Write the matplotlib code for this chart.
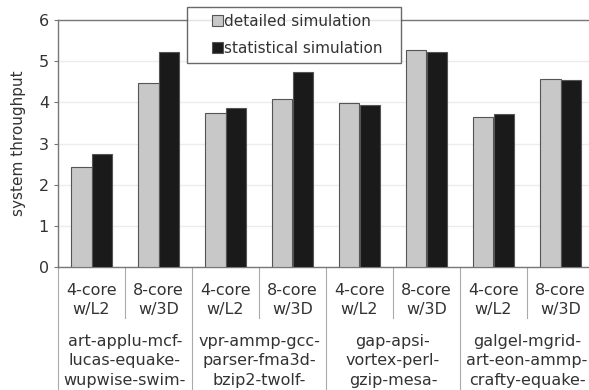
import matplotlib.pyplot as plt
import numpy as np
from matplotlib.patches import Rectangle
from matplotlib.legend_handler import HandlerPatch

configs = ["4-core\nw/L2", "8-core\nw/3D"] * 4
groups = ["art-applu-mcf-\nlucas-equake-\nwupwise-swim-",
          "vpr-ammp-gcc-\nparser-fma3d-\nbzip2-twolf-",
          "gap-apsi-\nvortex-perl-\ngzip-mesa-",
          "galgel-mgrid-\nart-eon-ammp-\ncrafty-equake-"]
detailed = [2.43, 4.47, 3.74, 4.08, 3.98, 5.27, 3.64, 4.56]
statistical = [2.74, 5.22, 3.86, 4.73, 3.93, 5.22, 3.71, 4.54]

txt = '#333333'
plt.rcParams['font.family'] = ['DejaVu Sans']

fig = plt.figure(figsize=(5.89, 3.9), dpi=100)
ax = fig.add_axes([58 / 589, 1 - 267 / 390, 536 / 589, 247 / 390])

x = np.arange(len(detailed))
w = 0.3
ax.bar(x - w / 2, detailed, w, color='#c8c8c8', edgecolor='#555555', linewidth=0.8, zorder=3)
ax.bar(x + w / 2, statistical, w, color='#1a1a1a', edgecolor='#555555', linewidth=0.8, zorder=3)

ax.set_xlim(-0.5, len(detailed) - 0.5)
ax.set_ylim(0, 6)
ax.set_yticks(range(7))
ax.tick_params(axis='y', colors='#777777', labelcolor=txt, labelsize=11.5, length=3, width=0.8)
ax.set_xticks([])
ax.yaxis.grid(True, color='#ececec', linewidth=1, zorder=0)
for s in ['left', 'top', 'bottom']:
    ax.spines[s].set_color('#777777')
    ax.spines[s].set_linewidth(1)
ax.spines['right'].set_visible(False)
ax.set_ylabel('system throughput', color=txt, fontsize=11, labelpad=9)

# two-level category axis below the plot
tr = ax.get_xaxis_transform()
for i, c in enumerate(configs):
    ax.text(i, -33 / 247, c, transform=tr, ha='center', va='center', fontsize=11.5,
            color=txt, linespacing=1.4)
for b in np.arange(-0.5, len(configs), 1.0):
    bottom = -0.5 if (b + 0.5) % 2 == 0 else -0.207
    ax.plot([b, b], [0, bottom], transform=tr, color='#aaaaaa', linewidth=0.8,
            clip_on=False)
for g, label in enumerate(groups):
    ax.text(2 * g + 0.5, -67 / 247, label, transform=tr, ha='center', va='top',
            fontsize=11.5, color=txt, linespacing=1.36)


# small square swatch pushed to the right end of the handle box
def square(legend, orig_handle, xdescent, ydescent, width, height, fontsize):
    s = 8
    return Rectangle((-xdescent + width - s, -ydescent + (height - s) / 2), s, s)


handles = [Rectangle((0, 0), 1, 1, facecolor='#c8c8c8', edgecolor='#555555', linewidth=0.8),
           Rectangle((0, 0), 1, 1, facecolor='#1a1a1a', edgecolor='#555555', linewidth=0.8)]
leg = ax.legend(handles, ['detailed simulation', 'statistical simulation'],
                handler_map={Rectangle: HandlerPatch(patch_func=square)},
                loc='upper left', mode='expand',
                bbox_to_anchor=(129 / 536, 1 + 11 / 247, 214 / 536, 0.01), fontsize=11,
                frameon=True, fancybox=False, handlelength=1.85, handleheight=0.85,
                handletextpad=0.1, borderpad=0.5, labelspacing=0.75, borderaxespad=0)
leg.get_frame().set_edgecolor('#444444')
leg.get_frame().set_linewidth(1)
for t in leg.get_texts():
    t.set_color(txt)
leg.set_zorder(5)

fig.savefig('out.png', dpi=100)
